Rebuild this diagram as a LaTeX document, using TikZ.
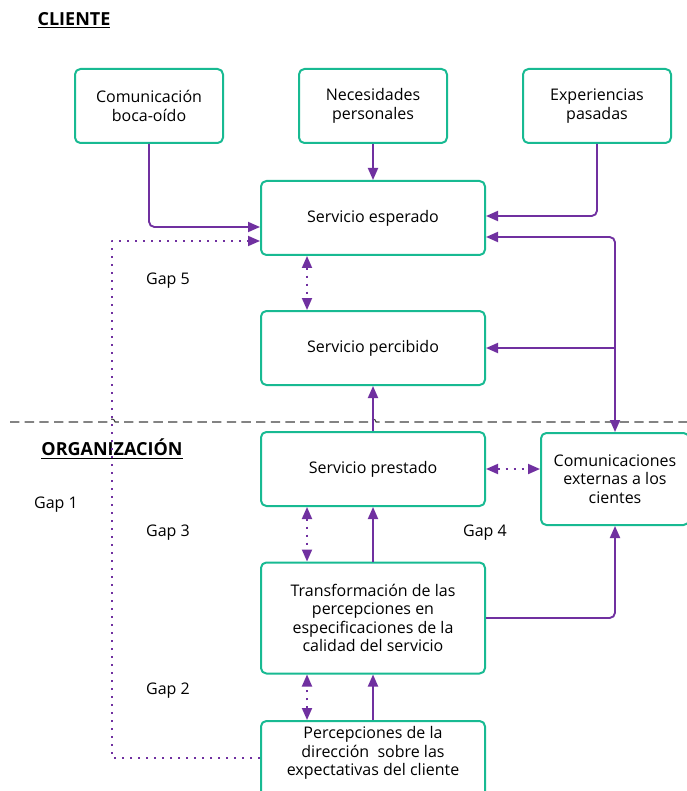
\documentclass[tikz,border=0pt]{standalone}
\usepackage{fontspec}
\setmainfont{Open Sans}
\usetikzlibrary{arrows.meta}
\definecolor{gapteal}{RGB}{24,186,146}
\definecolor{gappurple}{RGB}{112,48,160}
\tikzset{
  caja/.style={draw=gapteal,line width=1.5pt,rounded corners=4pt,fill=white,
    align=center,font=\fontsize{12pt}{13.9pt}\selectfont,
    minimum width=111pt,minimum height=55.5pt,inner sep=2pt},
  ancha/.style={caja,minimum width=168pt},
  flecha/.style={draw=gappurple,line width=1.4pt,->},
  brecha/.style={draw=gappurple,line width=1.4pt,<->,dash pattern=on 1.6pt off 4.4pt},
  rotulo/.style={font=\fontsize{12pt}{13.9pt}\selectfont,inner sep=1pt},
  titulo/.style={font=\fontsize{13.5pt}{15pt}\selectfont\bfseries,inner sep=1pt},
}
\begin{document}
\begin{tikzpicture}[x=0.75pt,y=-0.75pt,line join=round,
    >={Triangle[length=9pt,width=7.5pt]}]
  \useasboundingbox (0,0) rectangle (686,791);
  % frontera cliente / organizacion
  \draw[black!75,line width=0.8pt,dash pattern=on 7pt off 4pt]
    (10,422) -- (109,422) arc(180:360:3) -- (370,422) arc(180:360:3) -- (690,422);
  \node[titulo] (cliente) at (74,20) {\underline{CLIENTE}};
  \node[titulo] (organizacion) at (112,449) {\underline{ORGANIZACIÓN}};
  % cajas
  \node[caja] (boca) at (149,106) {Comunicación\\boca-oído};
  \node[caja] (necesidades) at (373,106) {Necesidades\\personales};
  \node[caja] (experiencias) at (597,106) {Experiencias\\pasadas};
  \node[ancha] (esperado) at (373,218) {Servicio esperado};
  \node[ancha] (percibido) at (373,348) {Servicio percibido};
  \node[ancha] (prestado) at (373,469) {Servicio prestado};
  \node[caja,minimum height=69pt] (externas) at (615,479)
    {Comunicaciones\\externas a los\\cientes};
  \node[ancha,minimum height=83.25pt] (transformacion) at (373,618)
    {Transformación de las\\percepciones en\\especificaciones de la\\calidad del servicio};
  \node[ancha,anchor=north,inner ysep=4pt,text depth=40pt] (percepciones) at (373,720)
    {Percepciones de la\\dirección\ \ sobre las\\expectativas del cliente};
  % gaps
  \node[rotulo] (gap5) at (168,281) {Gap 5};
  \node[rotulo] (gap1) at (56,505) {Gap 1};
  \node[rotulo] (gap3) at (168,533) {Gap 3};
  \node[rotulo] (gap4) at (485,533) {Gap 4};
  \node[rotulo] (gap2) at (168,691) {Gap 2};
  % conectores
  \coordinate (vuelta) at (112,500);
  \draw[flecha,rounded corners=4pt] (boca.south) |- ([yshift=-6.75pt]esperado.west);
  \draw[flecha] (necesidades.south) -- (esperado.north);
  \draw[flecha,rounded corners=4pt] (experiencias.south) |- ([yshift=1.5pt]esperado.east);
  \draw[flecha,<->,rounded corners=4pt] ([yshift=-14.25pt]esperado.east) -| (externas.north);
  \draw[flecha] (externas.north |- percibido.east) -- (percibido.east);
  \draw[flecha] (prestado.north) -- (percibido.south);
  \draw[brecha] ([xshift=-49.5pt]esperado.south) -- ([xshift=-49.5pt]percibido.north);
  \draw[brecha] (prestado.east) -- (prestado.east -| externas.west);
  \draw[brecha] ([xshift=-49.5pt]prestado.south) -- ([xshift=-49.5pt]transformacion.north);
  \draw[flecha] (transformacion.north) -- (prestado.south);
  \draw[flecha,rounded corners=4pt] (transformacion.east) -| (externas.south);
  \draw[brecha] ([xshift=-49.5pt]percepciones.north) -- ([xshift=-49.5pt]transformacion.south);
  \draw[flecha] (percepciones.north) -- (transformacion.south);
  \draw[brecha,->] ([yshift=-28.5pt]percepciones.north west) -| (vuelta)
    |- ([yshift=-17.25pt]esperado.west);
\end{tikzpicture}
\end{document}
